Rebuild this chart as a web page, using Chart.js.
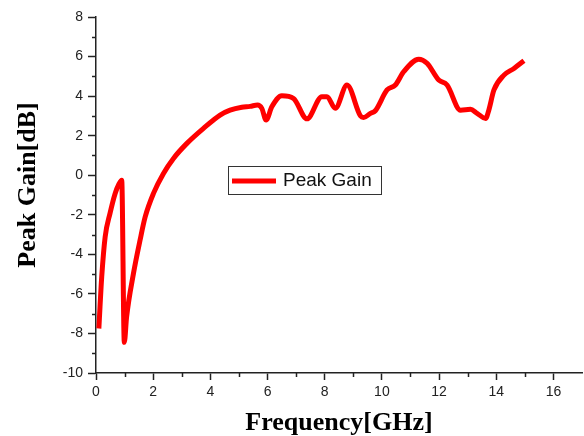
<!DOCTYPE html>
<html>
<head>
<meta charset="utf-8">
<script src="https://cdn.jsdelivr.net/npm/chart.js@4"></script>
<style>
  html, body { margin: 0; padding: 0; background: #fff; }
  #wrap { width: 584px; height: 436px; }
</style>
</head>
<body>
<div id="wrap"><canvas id="gainChart" width="584" height="436"></canvas></div>
<script>
// Frequency (GHz) and peak gain (dB)
const freq = [0.10, 0.14, 0.20, 0.32, 0.49, 0.67, 0.80, 0.90, 0.99, 1.07, 1.31, 1.54, 1.72, 2.01,
  2.36, 2.71, 3.18, 3.76, 4.34, 4.69, 5.10, 5.39, 5.65, 5.80, 5.95, 6.15, 6.50, 6.91, 7.38, 7.90, 8.08,
  8.37, 8.78, 9.25, 9.36, 9.60, 9.77, 10.18, 10.47, 10.76, 11.29, 11.58, 11.99, 12.28, 12.75,
  13.10, 13.33, 13.63, 13.74, 13.92, 14.27, 14.62, 14.97];
const gain = [-7.75, -6.66, -5.14, -3.12, -1.93, -0.92, -0.45, -0.25, -8.45, -7.17, -4.97, -3.29, -2.11, -0.92,
  0.09, 0.85, 1.61, 2.37, 3.04, 3.29, 3.44, 3.48, 3.55, 3.38, 2.79, 3.46, 4.02, 3.88, 2.85, 3.97, 3.97,
  3.38, 4.56, 3.0, 2.92, 3.13, 3.26, 4.31, 4.56, 5.23, 5.87, 5.66, 4.81, 4.56, 3.29,
  3.33, 3.13, 2.87, 3.29, 4.31, 5.06, 5.4, 5.79];
const seriesName = 'Peak Gain';
const xTitle = 'Frequency[GHz]';
const yTitle = 'Peak Gain[dB]';

const points = freq.map((f, i) => ({ x: f, y: gain[i] }));

// minor ticks, axis titles and the boxed legend inside the plot
const decorations = {
  id: 'decorations',
  afterDraw(chart) {
    const ctx = chart.ctx;
    const xs = chart.scales.x, ys = chart.scales.y;
    ctx.save();
    ctx.strokeStyle = '#222';
    ctx.lineWidth = 1.5;
    for (let v = 1; v < 17; v += 2) {
      const px = Math.round(xs.getPixelForValue(v)) + 0.5;
      ctx.beginPath();
      ctx.moveTo(px, xs.top);
      ctx.lineTo(px, xs.top + 4);
      ctx.stroke();
    }
    for (let v = -9; v < 8; v += 2) {
      const py = Math.round(ys.getPixelForValue(v)) + 0.5;
      ctx.beginPath();
      ctx.moveTo(ys.right, py);
      ctx.lineTo(ys.right - 4, py);
      ctx.stroke();
    }

    ctx.fillStyle = '#000';
    ctx.font = 'bold 26px "Liberation Serif", "Times New Roman", serif';
    ctx.textAlign = 'center';
    ctx.textBaseline = 'alphabetic';
    ctx.fillText(xTitle, (xs.left + xs.right) / 2, 430);
    ctx.translate(35, 185);
    ctx.rotate(-Math.PI / 2);
    ctx.fillText(yTitle, 0, 0);
    ctx.restore();

    // legend
    ctx.save();
    ctx.strokeStyle = '#333';
    ctx.lineWidth = 1;
    ctx.strokeRect(228.5, 166.5, 153, 28);
    ctx.strokeStyle = '#ff0000';
    ctx.lineWidth = 5;
    ctx.beginPath();
    ctx.moveTo(232, 181);
    ctx.lineTo(276, 181);
    ctx.stroke();
    ctx.fillStyle = '#111';
    ctx.font = '19px "Liberation Sans", Arial, sans-serif';
    ctx.textAlign = 'left';
    ctx.textBaseline = 'middle';
    ctx.fillText(seriesName, 283, 181);
    ctx.restore();
  }
};

new Chart(document.getElementById('gainChart'), {
  type: 'line',
  data: {
    datasets: [{
      label: seriesName,
      data: points,
      borderColor: '#ff0000',
      borderWidth: 5,
      pointRadius: 0,
      cubicInterpolationMode: 'monotone',
      fill: false
    }]
  },
  options: {
    responsive: false,
    animation: false,
    layout: { padding: { top: 17, right: 2, left: 0, bottom: 0 } },
    plugins: { legend: { display: false }, tooltip: { enabled: false } },
    scales: {
      x: {
        type: 'linear',
        min: 0,
        max: 17,
        afterFit: s => { s.height = 63; },
        afterBuildTicks: s => { s.ticks = [0, 2, 4, 6, 8, 10, 12, 14, 16].map(v => ({ value: v })); },
        border: { display: true, color: '#222', width: 1.5 },
        grid: { display: true, drawOnChartArea: false, drawTicks: true, tickLength: 7, tickColor: '#222', tickWidth: 1.5 },
        ticks: { color: '#222', padding: 4, maxRotation: 0, font: { family: '"Liberation Sans", Arial, sans-serif', size: 14 } }
      },
      y: {
        type: 'linear',
        min: -10,
        max: 8,
        afterFit: s => { s.width = 96; },
        afterBuildTicks: s => { s.ticks = [-10, -8, -6, -4, -2, 0, 2, 4, 6, 8].map(v => ({ value: v })); },
        border: { display: true, color: '#222', width: 1.5 },
        grid: { display: true, drawOnChartArea: false, drawTicks: true, tickLength: 8, tickColor: '#222', tickWidth: 1.5 },
        ticks: { color: '#222', padding: 5, font: { family: '"Liberation Sans", Arial, sans-serif', size: 14 } }
      }
    }
  },
  plugins: [decorations]
});
</script>
</body>
</html>
